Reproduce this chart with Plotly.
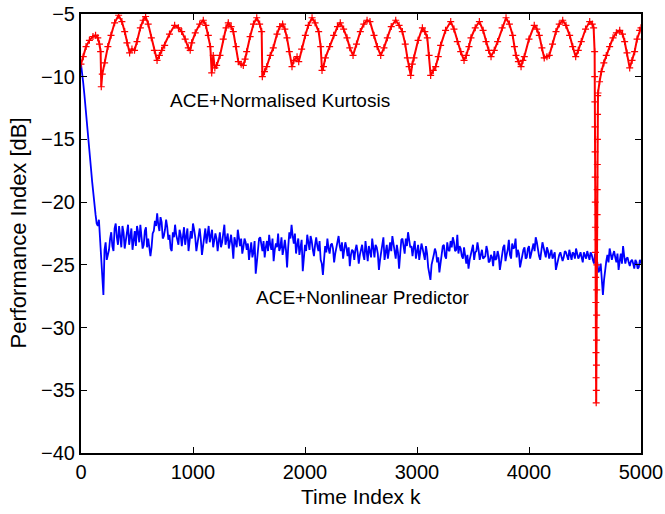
import plotly.graph_objects as go

# ---- data ----
# blue curve, samples at k = 0, 20, ..., 5000
k_blue = list(range(0, 5001, 20))
pi_blue = [
    -9.0, -10.5, -12.3, -14.2, -16.3, -18.4, -20.2, -21.7, -21.4, -24.8, -27.4, -23.2, -24.3,
    -22.9, -23.5, -22.1, -22.8, -21.9, -23.6, -22.4, -23.1, -21.8, -22.9, -23.8, -22.3, -21.9,
    -23.2, -22.6, -23.4, -22.0, -22.9, -24.3, -22.5, -21.5, -20.9, -22.3, -21.6, -22.7, -21.4,
    -23.0, -23.7, -22.4, -21.8, -23.1, -22.2, -23.5, -22.0, -22.6, -23.9, -22.3, -21.7,
    -22.8, -23.4, -22.1, -24.2, -22.7, -23.3, -21.9, -22.8, -23.6, -22.5, -23.9, -22.4, -23.2,
    -21.8, -22.9, -23.7, -22.6, -24.5, -23.1, -22.2, -23.5, -24.1, -22.9, -23.8, -24.6, -23.2,
    -24.0, -25.7, -23.6, -22.8, -23.9, -24.4, -23.1, -22.6, -23.8, -24.7, -23.3, -22.5, -23.6,
    -24.2, -23.0, -25.2, -22.4, -21.8, -23.3, -24.1, -22.9, -23.7, -25.5, -23.4,
    -22.6, -23.8, -23.1, -24.3, -22.8, -23.9, -24.6, -25.8, -23.5, -22.9, -24.1, -23.3, -24.8,
    -23.6, -22.7, -23.9, -24.5, -23.2, -24.3, -25.1, -23.8, -24.6, -23.4, -24.9, -23.7, -24.2,
    -23.1, -24.7, -23.9, -22.9, -24.4, -23.6, -25.4, -24.0, -22.8, -23.9, -24.5, -23.2, -22.7,
    -24.1, -23.4, -25.3, -23.0, -23.8, -22.9, -22.4, -23.6, -24.3, -23.1, -23.9,
    -24.6, -23.3, -24.1, -23.5, -25.2, -26.2, -24.4, -23.7, -24.8, -25.6, -24.0, -23.4, -24.5,
    -23.8, -23.1, -22.8, -23.9, -22.6, -23.5, -24.3, -23.6, -24.9, -25.3, -24.1, -23.4, -24.0,
    -23.2, -24.6, -23.8, -24.4, -23.5, -24.8, -24.2, -25.1, -24.6, -23.9, -25.4, -24.1, -23.4,
    -24.2, -23.0, -24.5, -23.7, -22.9, -23.8, -25.2, -24.3, -23.6, -24.4, -23.5,
    -24.1, -23.3, -22.8, -23.9, -24.6, -23.2, -24.0, -23.6, -24.5, -23.8, -24.3, -25.4, -24.6,
    -24.0, -24.7, -23.9, -24.4, -23.8, -24.6, -24.1, -23.7, -24.5, -24.0, -24.8, -24.2, -23.9,
    -24.6, -24.2, -24.9, -24.4, -25.6, -24.9, -27.4, -25.3, -24.2, -23.7, -24.6, -23.9, -24.8,
    -25.4, -24.1, -23.5, -24.9, -24.4, -25.1, -24.6, -25.3, -24.8, -25.2, -24.9,
]
# blue curve, in-between samples at k = 10, 30, ..., 4990
k_blue_mid = list(range(10, 5000, 20))
pi_blue_mid = [
    -9.6, -11.4, -13.3, -15.2, -17.4, -19.5, -21.0, -21.9, -23.0, -26.3, -23.8, -24.6,
    -23.8, -22.4, -23.9, -21.7, -23.4, -22.6, -21.9, -23.7, -22.5, -23.4, -22.1, -22.8, -23.5,
    -22.4, -21.8, -23.7, -22.3, -23.6, -23.5, -23.6, -22.3, -21.9, -21.8, -21.2, -22.9, -22.2,
    -22.0, -22.6, -23.9, -22.8, -22.6, -23.4, -22.6, -22.9, -23.4, -22.1, -23.0, -22.9,
    -22.2, -23.9, -22.6, -23.0, -23.5, -22.1, -22.7, -23.2, -22.2, -23.0, -22.9, -23.1, -23.6,
    -22.5, -23.4, -22.5, -23.0, -23.4, -22.8, -23.6, -22.7, -22.9, -23.6, -23.2, -23.3, -23.9,
    -24.4, -23.1, -24.8, -22.9, -23.4, -23.1, -23.6, -23.9, -23.4, -22.9, -23.8, -23.6, -23.9,
    -22.8, -23.7, -23.8, -23.6, -22.9, -22.7, -22.5, -23.4, -24.2, -23.0, -24.1,
    -23.9, -23.2, -22.7, -23.8, -23.4, -23.5, -23.1, -24.9, -24.6, -24.0, -23.7, -23.4, -23.7,
    -24.1, -23.0, -23.5, -23.2, -23.8, -23.6, -23.6, -24.2, -23.9, -23.8, -24.0, -24.2, -23.4,
    -24.6, -23.8, -23.5, -24.4, -23.6, -23.4, -24.1, -24.6, -23.3, -24.6, -23.4, -23.8, -23.9,
    -23.3, -24.5, -24.0, -24.2, -22.9, -24.1, -23.5, -23.2, -23.5, -23.6, -24.5,
    -23.4, -23.9, -23.7, -24.6, -24.1, -25.6, -25.0, -24.2, -24.0, -24.4, -24.7, -23.5, -24.3,
    -23.2, -23.9, -23.6, -23.2, -23.8, -24.1, -23.7, -24.5, -24.1, -24.2, -24.6, -23.8, -24.6,
    -23.9, -23.8, -24.2, -24.5, -24.3, -23.9, -24.7, -24.4, -23.9, -24.5, -24.3, -24.8, -23.6,
    -24.7, -23.8, -24.2, -23.3, -23.6, -24.4, -24.1, -24.6, -23.8, -24.5, -23.7,
    -24.5, -23.8, -23.9, -23.2, -24.3, -23.9, -23.6, -24.4, -23.9, -24.1, -24.5, -24.0, -24.9,
    -24.2, -24.3, -24.4, -24.0, -24.6, -24.1, -24.0, -24.5, -24.1, -24.3, -24.4, -24.0, -24.5,
    -24.3, -24.0, -24.6, -24.1, -24.8, -25.4, -26.3, -26.2, -24.7, -24.8, -24.3, -24.2, -24.4,
    -24.1, -24.7, -24.9, -24.3, -24.5, -24.8, -24.7, -24.9, -24.6, -25.3, -24.6,
]

# red curve
k_red = [
    0, 20, 45, 75, 107, 130, 150, 165, 175, 181, 190, 211, 240, 268, 300, 336, 365, 390, 410, 434,
    455, 478, 500, 530, 555, 577, 600, 628, 655, 679, 700, 720, 747, 790, 836, 870, 899, 930, 958,
    975, 988, 1020, 1060, 1092, 1115, 1137, 1155, 1167, 1181, 1195, 1211, 1241, 1270, 1295, 1315,
    1340, 1360, 1385, 1405, 1430, 1449, 1465, 1479, 1510, 1540, 1569, 1595, 1613, 1619, 1638, 1658,
    1690, 1717, 1750, 1775, 1800, 1820, 1839, 1860, 1884, 1900, 1929, 1944, 1970, 2003, 2030, 2063,
    2090, 2122, 2140, 2152, 2165, 2182, 2220, 2256, 2290, 2315, 2345, 2375, 2400, 2429, 2460, 2494,
    2525, 2554, 2580, 2616, 2645, 2676, 2705, 2735, 2770, 2810, 2840, 2869, 2895, 2914, 2930, 2944,
    2958, 2973, 3010, 3048, 3070, 3092, 3108, 3122, 3145, 3167, 3190, 3211, 3255, 3301, 3330, 3360,
    3390, 3420, 3440, 3464, 3482, 3520, 3557, 3590, 3616, 3640, 3661, 3690, 3720, 3760, 3795, 3825,
    3854, 3870, 3884, 3905, 3929, 3945, 3958, 4000, 4047, 4070, 4092, 4115, 4136, 4160, 4181, 4210,
    4241, 4270, 4301, 4330, 4363, 4390, 4417, 4440, 4467, 4505, 4542, 4565, 4577,
    4586, 4587, 4588, 4589, 4590, 4591, 4592, 4593, 4594, 4595, 4596, 4597, 4598, 4599, 4600,
    4601, 4602, 4603, 4604, 4605, 4606, 4607, 4608, 4609, 4610, 4611, 4612, 4613,
    4616, 4630, 4646, 4668, 4690, 4720, 4750, 4780, 4810, 4835, 4854, 4875, 4899, 4920, 4943, 4965,
    4988, 5000,
]
pi_red = [
    -9.0, -8.4, -7.6, -7.1, -6.8, -6.7, -6.9, -7.4, -8.0, -10.8, -9.8, -8.9, -7.6, -6.7, -5.7, -5.1,
    -5.6, -6.4, -7.3, -8.1, -7.8, -7.9, -7.2, -6.1, -5.5, -5.2, -5.8, -6.9, -7.9, -8.7, -8.3, -7.9,
    -7.5, -6.6, -5.9, -6.1, -6.4, -7.0, -7.7, -7.9, -7.3, -6.5, -5.8, -5.5, -5.9, -6.7, -7.6, -9.7,
    -8.3, -9.3, -9.1, -8.3, -7.0, -6.1, -5.7, -6.0, -6.4, -7.6, -8.8, -9.0, -9.1, -8.6, -8.0, -6.8,
    -5.8, -5.3, -5.8, -6.4, -10.0, -9.6, -9.2, -8.3, -7.7, -6.6, -6.0, -5.8, -6.2, -6.9, -8.0, -9.2,
    -8.7, -8.4, -8.8, -7.8, -6.7, -5.9, -5.3, -5.7, -6.4, -7.6, -9.5, -9.2, -8.5, -7.6, -6.7, -6.0,
    -5.7, -6.2, -6.9, -7.7, -8.3, -7.4, -6.4, -5.8, -5.5, -5.6, -6.7, -7.6, -8.3, -7.7, -6.9, -6.0,
    -5.5, -5.9, -6.4, -7.4, -8.5, -9.2, -9.9, -9.0, -8.5, -7.1, -6.1, -6.4, -6.9, -8.3, -9.9, -9.5,
    -9.2, -8.4, -7.5, -6.3, -5.6, -6.2, -7.2, -8.0, -8.7, -8.3, -7.6, -6.9, -6.1, -5.6, -6.3, -7.2,
    -7.9, -8.4, -7.9, -7.2, -6.1, -5.3, -5.8, -6.7, -7.6, -8.3, -8.8, -9.2, -8.7, -8.4, -7.0, -5.9,
    -6.2, -6.7, -7.7, -8.5, -8.4, -8.3, -7.4, -6.4, -5.8, -5.5, -5.9, -6.7, -7.6, -8.4, -7.9, -7.2,
    -6.2, -5.6, -5.8, -6.1,
    -8.0, -10.0, -12.0, -14.0, -16.0, -18.0, -20.0, -22.0, -24.0, -26.0, -28.0, -30.0, -32.0, -34.0,
    -36.0,
    -35.0, -33.0, -31.0, -29.0, -27.0, -25.0, -23.0, -21.0, -19.0, -17.0, -15.0, -13.0, -11.5,
    -11.3, -10.4, -9.6, -8.9, -8.3, -7.6, -6.9, -6.5, -6.3, -6.6, -7.2, -8.1, -9.3, -8.7, -8.0, -7.0,
    -6.3, -6.1,
]

x_ticks = [0, 1000, 2000, 3000, 4000, 5000]
y_ticks = [-40, -35, -30, -25, -20, -15, -10, -5]

label_red = "ACE+Normalised Kurtosis"
label_blue = "ACE+Nonlinear Predictor"
x_title = "Time Index k"
y_title = "Performance Index [dB]"

FONT = "Liberation Sans, Arial, Helvetica, sans-serif"

# merge the two blue sample sets in k order
blue_pairs = sorted(zip(k_blue + k_blue_mid, pi_blue + pi_blue_mid))
bx = [p[0] for p in blue_pairs]
by = [p[1] for p in blue_pairs]

fig = go.Figure()
fig.add_trace(go.Scatter(
    x=bx, y=by, mode="lines",
    line=dict(color="#0000ff", width=1.8), showlegend=False,
))
fig.add_trace(go.Scatter(
    x=k_red, y=pi_red, mode="lines+markers",
    line=dict(color="#ff0000", width=2),
    marker=dict(symbol="cross-thin", size=5, line=dict(color="#ff0000", width=1.2)),
    showlegend=False,
))

fig.add_annotation(x=1777, y=-11.9, text=label_red, showarrow=False,
                   font=dict(family=FONT, size=19, color="black"))
fig.add_annotation(x=2509, y=-27.6, text=label_blue, showarrow=False,
                   font=dict(family=FONT, size=19, color="black"))

# axis titles placed as paper-anchored texts
fig.add_annotation(xref="paper", yref="paper", x=0.5, y=-0.1002, text=x_title,
                   showarrow=False, xanchor="center", yanchor="middle",
                   font=dict(family=FONT, size=21, color="black"))
fig.add_annotation(xref="paper", yref="paper", x=-0.1125, y=0.5, text=y_title,
                   showarrow=False, xanchor="center", yanchor="middle", textangle=-90,
                   font=dict(family=FONT, size=22, color="black"))

axis_common = dict(
    showline=True, linecolor="black", linewidth=2, mirror="ticks",
    ticks="inside", ticklen=6, tickwidth=1, tickcolor="black",
    showgrid=False, zeroline=False, automargin=False,
    ticklabeloverflow="allow",
    tickfont=dict(family=FONT, size=20, color="black"),
)

fig.update_xaxes(range=[0, 5000], tickvals=x_ticks, **axis_common)
fig.update_yaxes(range=[-40, -5], tickvals=y_ticks, **axis_common)

fig.update_layout(
    width=665, height=514,
    margin=dict(l=81, r=24, t=14, b=61),
    plot_bgcolor="white", paper_bgcolor="white",
    font=dict(family=FONT),
)

# remove the browser's default page margin so the figure sits at the window origin
fig.write_html("out.html", config={"displayModeBar": False},
               post_script="document.body.style.margin='0px';")
